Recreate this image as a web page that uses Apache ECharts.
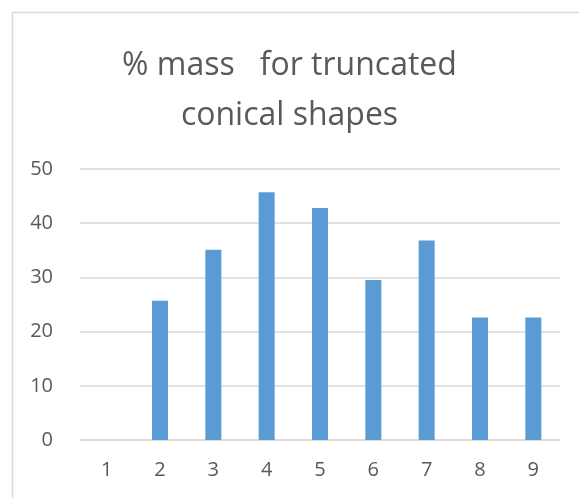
<!DOCTYPE html>
<html>
<head>
<meta charset="utf-8">
<script src="https://cdn.jsdelivr.net/npm/echarts@6/dist/echarts.min.js"></script>
<style>html,body{margin:0;padding:0;background:#fff}#c{width:579px;height:498px}</style>
</head>
<body>
<div id="c"></div>
<script>
const titleText = "% mass   for truncated\nconical shapes";
const categories = ["1","2","3","4","5","6","7","8","9"];
const massValues = [0, 25.7, 35.1, 45.7, 42.8, 29.5, 36.8, 22.6, 22.6];
const yTicks = [0, 10, 20, 30, 40, 50];

const chart = echarts.init(document.getElementById('c'), null, {renderer: 'canvas'});
chart.setOption({
  animation: false,
  backgroundColor: '#fff',
  graphic: [{
    type: 'rect', left: 10, top: 10, silent: true,
    shape: {width: 600, height: 600},
    style: {fill: 'none', stroke: '#d9d9d9', lineWidth: 1.5}
  }],
  title: {
    text: titleText, left: 'center', top: 36,
    textStyle: {fontFamily: 'Open Sans', fontWeight: 400, fontSize: 32, color: '#595959', lineHeight: 50}
  },
  grid: {left: 80, right: 19, top: 169, bottom: 58},
  xAxis: {
    type: 'category', data: categories,
    axisLine: {lineStyle: {color: '#d9d9d9', width: 1.5}},
    axisTick: {show: false},
    axisLabel: {color: '#595959', fontSize: 20, fontFamily: 'Open Sans', margin: 20}
  },
  yAxis: {
    type: 'value', min: yTicks[0], max: yTicks[yTicks.length-1], interval: 10,
    axisLine: {show: false}, axisTick: {show: false},
    splitLine: {lineStyle: {color: '#d9d9d9', width: 1.5}},
    axisLabel: {color: '#595959', fontSize: 20, fontFamily: 'Open Sans', margin: 27}
  },
  series: [{
    type: 'bar', data: massValues, barWidth: 16,
    itemStyle: {color: '#5b9bd5'}
  }]
});
</script>
</body>
</html>
